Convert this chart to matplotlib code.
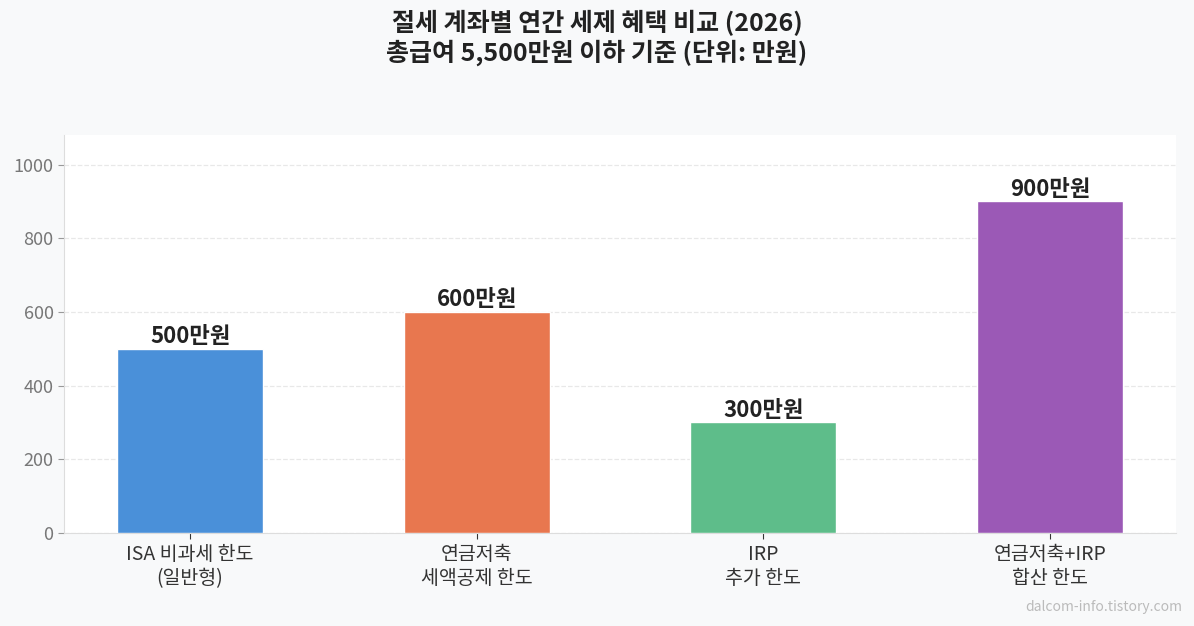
import matplotlib

matplotlib.use("Agg")
import matplotlib.pyplot as plt

plt.rcParams["font.family"] = ["Noto Sans CJK KR", "DejaVu Sans"]

categories = ["ISA 비과세 한도\n(일반형)", "연금저축\n세액공제 한도", "IRP\n추가 한도", "연금저축+IRP\n합산 한도"]
values = [500, 600, 300, 900]
value_labels = ["500만원", "600만원", "300만원", "900만원"]
colors = ["#4A90D9", "#E8774F", "#5EBD8A", "#9B59B6"]
yticks = [0, 200, 400, 600, 800, 1000]

fig = plt.figure(figsize=(11.94, 6.26), dpi=100, facecolor="#F8F9FA")
ax = fig.add_axes([0.0536, 0.1486, 0.9314, 0.6357])
ax.set_facecolor("white")

x = range(len(values))
bars = ax.bar(x, values, width=0.51, color=colors, edgecolor="white", linewidth=1.0, zorder=3)
for b, lab in zip(bars, value_labels):
    ax.text(b.get_x() + b.get_width() / 2, b.get_height() + 2, lab,
            ha="center", va="bottom", fontsize=16, fontweight="bold", color="#222222")

ax.set_xlim(-0.44, 3.44)
ax.set_ylim(0, 1080)
ax.set_xticks(list(x))
ax.set_xticklabels(categories, fontsize=14, color="#333333", linespacing=1.2)
ax.set_yticks(yticks)
ax.tick_params(axis="y", labelsize=13, labelcolor="#777777", color="#999999", length=4)
ax.tick_params(axis="x", color="#333333", length=4, pad=4)
ax.grid(axis="y", linestyle="--", color="#E8E8E8", linewidth=0.9, zorder=0)
for side in ["top", "right"]:
    ax.spines[side].set_visible(False)
for side in ["left", "bottom"]:
    ax.spines[side].set_color("#DDDDDD")

fig.suptitle("절세 계좌별 연간 세제 혜택 비교 (2026)\n총급여 5,500만원 이하 기준 (단위: 만원)",
             fontsize=18, fontweight="bold", color="#222222", y=0.984, linespacing=1.15)
fig.text(0.99, 0.031, "dalcom-info.tistory.com", ha="right", va="center",
         fontsize=10, color="#BBBBBB")

fig.savefig("out.png", dpi=100, facecolor=fig.get_facecolor())
